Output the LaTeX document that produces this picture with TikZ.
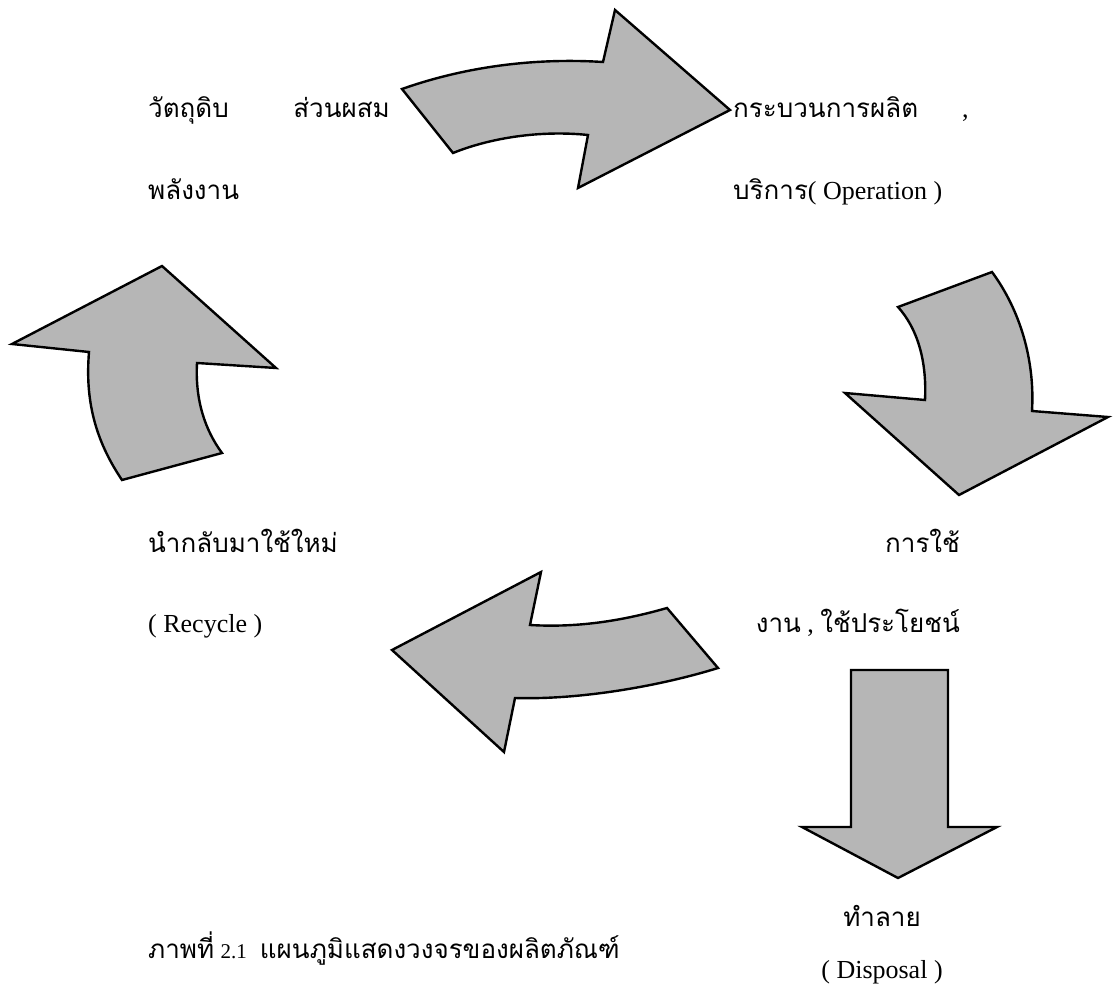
\documentclass[tikz,border=0pt]{standalone}
\usepackage{fontspec}
\setmainfont{Liberation Serif}
\newfontfamily\thai[Script=Thai]{Loma}
\begin{document}
\begin{tikzpicture}[x=1pt,y=-1pt,
  blockarrow/.style={draw=black,line width=2.4pt,line join=miter,fill={rgb,255:red,182;green,182;blue,182}},
  lbl/.style={inner sep=0pt,anchor=base west,font=\fontsize{26}{30}\selectfont},
  lble/.style={lbl,anchor=base east},
  lblc/.style={lbl,anchor=base}]
\useasboundingbox[fill=white] (0,0) rectangle (1115,992);
% top arrow (raw materials -> operation)
\draw[blockarrow] (402,89) .. controls (470,65) and (540,58) .. (603,62) -- (615,10) -- (730,110) -- (578,188) -- (588,135) .. controls (540,130) and (490,138) .. (453,153) -- cycle;
% right curved down arrow
\draw[blockarrow] (898,307) -- (992,272) .. controls (1020,310) and (1035,360) .. (1032,411) -- (1108,417) -- (959,495) -- (845,393) -- (925,400) .. controls (927,360) and (917,328) .. (898,307) -- cycle;
% bottom arrow (use -> recycle)
\draw[blockarrow] (392,650) -- (541,572) -- (530,625) .. controls (580,628) and (625,620) .. (667,608) -- (718,668) .. controls (660,686) and (580,700) .. (515,698) -- (504,752) -- cycle;
% left up arrow
\draw[blockarrow] (162,266) -- (276,368) -- (197,363) .. controls (195,400) and (205,430) .. (222,453) -- (122,480) .. controls (95,440) and (85,400) .. (89,352) -- (12,344) -- cycle;
% straight down arrow (disposal)
\draw[blockarrow] (851,670) -- (948,670) -- (948,827) -- (997,827) -- (898,878) -- (802,827) -- (851,827) -- cycle;
% texts
\node[lbl] (raw1) at (148,118) {\thai วัตถุดิบ};
\node[lble] (raw2) at (390,118) {\thai ส่วนผสม};
\node[lbl] (raw3) at (148,200) {\thai พลังงาน};
\node[lbl] (op1) at (733,118) {\thai กระบวนการผลิต};
\node[lbl] (op1c) at (962,118) {,};
\node[lbl] (op2) at (733,200) {{\thai บริการ}( Operation )};
\node[lble] (use1) at (960,552) {\thai การใช้};
\node[lble] (use2) at (960,632) {{\thai งาน} , {\thai ใช้ประโยชน์}};
\node[lbl] (rec1) at (148,552) {\thai นำกลับมาใช้ใหม่};
\node[lbl] (rec2) at (148,632) {( Recycle )};
\node[lblc] (dis1) at (882,926) {\thai ทำลาย};
\node[lblc] (dis2) at (882,978) {( Disposal )};
\node[lbl] (cap) at (148,958) {{\thai ภาพที่} {\fontsize{21}{24}\selectfont 2.1} \ {\thai แผนภูมิแสดงวงจรของผลิตภัณฑ์}};
\end{tikzpicture}
\end{document}
